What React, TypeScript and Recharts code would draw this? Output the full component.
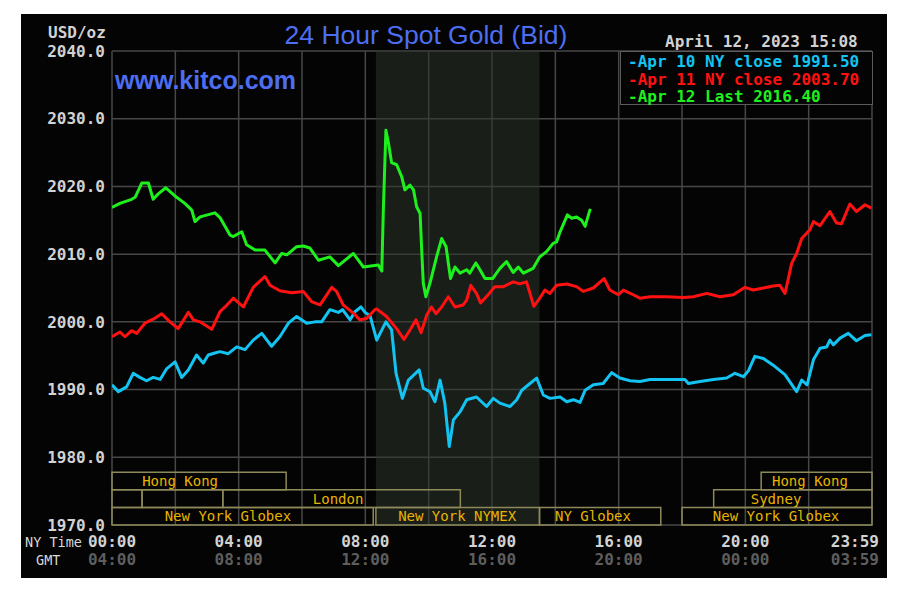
import { LineChart, Line, XAxis, YAxis, CartesianGrid, ReferenceArea, Legend } from "recharts";

// [hour of NY day, USD/oz]
const apr10: [number, number][] = [
  [0, 1990.7], [0.2, 1989.7], [0.46, 1990.4], [0.67, 1992.4], [0.88, 1991.8], [1.09, 1991.3],
  [1.3, 1991.8], [1.52, 1991.5], [1.73, 1993.1], [1.99, 1994.1], [2.2, 1991.8], [2.41, 1992.9],
  [2.67, 1995.1], [2.88, 1993.9], [3.04, 1995.1], [3.25, 1995.4], [3.41, 1995.6], [3.67, 1995.3],
  [3.94, 1996.3], [4.2, 1995.9], [4.46, 1997.3], [4.73, 1998.3], [5.04, 1996.4], [5.3, 1997.8],
  [5.57, 1999.8], [5.83, 2000.8], [6.15, 1999.8], [6.41, 2000.0], [6.62, 2000.0], [6.88, 2001.8],
  [7.15, 2001.4], [7.28, 2001.8], [7.52, 2000.3], [7.67, 2001.5], [7.86, 2002.2], [7.99, 2001.4],
  [8.15, 2000.9], [8.36, 1997.3], [8.65, 2000.0], [8.83, 1998.8], [8.97, 1992.4], [9.17, 1988.7],
  [9.36, 1991.4], [9.7, 1992.9], [9.83, 1990.2], [10.04, 1989.7], [10.2, 1988.2], [10.36, 1991.4],
  [10.51, 1988.0], [10.65, 1981.6], [10.78, 1985.5], [10.99, 1986.7], [11.2, 1988.5], [11.51, 1988.9],
  [11.83, 1987.5], [12.04, 1988.7], [12.25, 1988.0], [12.57, 1987.5], [12.78, 1988.5], [12.94, 1989.9],
  [13.2, 1990.9], [13.41, 1991.7], [13.62, 1989.2], [13.83, 1988.7], [14.15, 1988.9], [14.36, 1988.2],
  [14.57, 1988.5], [14.78, 1988.1], [14.94, 1989.9], [15.2, 1990.7], [15.51, 1990.9], [15.78, 1992.5],
  [16.04, 1991.7], [16.36, 1991.3], [16.67, 1991.2], [16.99, 1991.5], [17.52, 1991.5], [18.09, 1991.5],
  [18.2, 1990.9], [18.57, 1991.2], [18.99, 1991.5], [19.41, 1991.7], [19.67, 1992.4], [19.94, 1991.9],
  [20.1, 1992.8], [20.3, 1994.9], [20.57, 1994.6], [20.88, 1993.6], [21.25, 1992.2], [21.62, 1989.7],
  [21.78, 1991.4], [21.95, 1990.7], [22.15, 1994.4], [22.36, 1996.1], [22.57, 1996.3], [22.67, 1997.3],
  [22.78, 1996.6], [22.99, 1997.6], [23.25, 1998.3], [23.51, 1997.2], [23.78, 1998.0], [23.98, 1998.1],
];

const apr11: [number, number][] = [
  [0, 1997.8], [0.25, 1998.5], [0.41, 1997.8], [0.62, 1998.7], [0.78, 1998.3], [1.04, 1999.8],
  [1.3, 2000.4], [1.57, 2001.2], [1.83, 2000.0], [2.09, 1999.0], [2.41, 2001.4], [2.57, 2000.3],
  [2.78, 2000.0], [3.15, 1998.9], [3.41, 2001.5], [3.57, 2002.2], [3.83, 2003.5], [4.15, 2002.2],
  [4.46, 2005.1], [4.83, 2006.7], [4.99, 2005.4], [5.3, 2004.6], [5.67, 2004.3], [6.04, 2004.5],
  [6.3, 2003.0], [6.57, 2002.5], [6.94, 2005.1], [7.09, 2004.5], [7.3, 2002.5], [7.62, 2001.3],
  [7.83, 2000.3], [8.04, 2000.5], [8.3, 2001.8], [8.36, 2001.9], [8.67, 2000.8], [8.99, 1999.0],
  [9.22, 1997.4], [9.41, 1998.8], [9.6, 2000.3], [9.76, 1998.4], [9.94, 2001.0], [10.09, 2002.2],
  [10.23, 2001.2], [10.41, 2002.2], [10.62, 2003.7], [10.83, 2002.2], [11.09, 2002.5], [11.2, 2003.2],
  [11.33, 2005.4], [11.51, 2004.2], [11.64, 2002.8], [11.88, 2004.0], [12.09, 2005.2], [12.36, 2005.2],
  [12.67, 2005.9], [12.88, 2005.6], [13.09, 2005.9], [13.2, 2004.2], [13.32, 2002.3], [13.51, 2003.5],
  [13.67, 2004.7], [13.83, 2004.2], [14.04, 2005.4], [14.36, 2005.6], [14.67, 2005.2], [14.88, 2004.5],
  [15.2, 2005.0], [15.54, 2006.4], [15.72, 2004.7], [15.99, 2004.0], [16.15, 2004.7], [16.46, 2004.0],
  [16.67, 2003.5], [16.99, 2003.7], [17.52, 2003.7], [18.04, 2003.6], [18.36, 2003.7], [18.78, 2004.2],
  [19.2, 2003.7], [19.62, 2004.0], [19.99, 2005.1], [20.25, 2004.7], [20.57, 2005.0], [20.88, 2005.3],
  [21.09, 2005.4], [21.25, 2004.2], [21.35, 2006.2], [21.46, 2008.6], [21.62, 2010.1], [21.78, 2012.3],
  [22.04, 2013.6], [22.15, 2014.8], [22.36, 2014.2], [22.67, 2016.3], [22.88, 2014.6], [23.04, 2014.5],
  [23.3, 2017.4], [23.51, 2016.3], [23.78, 2017.3], [23.98, 2016.8],
];

const apr12: [number, number][] = [
  [0, 2016.9], [0.25, 2017.5], [0.62, 2018.1], [0.73, 2018.4], [0.94, 2020.5], [1.15, 2020.5],
  [1.3, 2018.1], [1.46, 2018.9], [1.7, 2019.8], [2.04, 2018.4], [2.3, 2017.5], [2.52, 2016.5],
  [2.62, 2014.8], [2.78, 2015.5], [3.25, 2016.1], [3.41, 2015.4], [3.73, 2012.8], [3.83, 2012.6],
  [4.1, 2013.3], [4.25, 2011.4], [4.52, 2010.6], [4.83, 2010.6], [5.15, 2008.7], [5.36, 2010.1],
  [5.52, 2009.9], [5.83, 2011.1], [6.04, 2011.2], [6.25, 2010.9], [6.52, 2009.1], [6.88, 2009.6],
  [7.15, 2008.3], [7.62, 2010.1], [7.94, 2008.1], [8.41, 2008.4], [8.52, 2007.5], [8.57, 2016.8],
  [8.65, 2028.3], [8.73, 2026.4], [8.83, 2023.5], [8.99, 2023.2], [9.15, 2021.4], [9.25, 2019.5],
  [9.41, 2020.2], [9.52, 2019.5], [9.62, 2017.0], [9.73, 2016.0], [9.78, 2010.6], [9.83, 2005.7],
  [9.91, 2003.7], [10.04, 2005.7], [10.25, 2009.6], [10.41, 2012.3], [10.55, 2011.1], [10.62, 2008.7],
  [10.69, 2006.4], [10.83, 2008.1], [10.99, 2007.2], [11.2, 2007.7], [11.3, 2007.2], [11.49, 2008.7],
  [11.62, 2007.7], [11.78, 2006.4], [12.02, 2006.4], [12.25, 2007.9], [12.46, 2008.9], [12.67, 2007.3],
  [12.83, 2008.1], [12.99, 2007.2], [13.3, 2007.9], [13.51, 2009.6], [13.73, 2010.4], [13.93, 2011.6],
  [14.04, 2011.8], [14.15, 2013.3], [14.38, 2015.8], [14.52, 2015.3], [14.67, 2015.5], [14.83, 2015.0],
  [14.94, 2014.1], [15.09, 2016.5], [15.13, 2016.4],
];

const seriesNames = ["Apr 10 NY close 1991.50", "Apr 11 NY close 2003.70", "Apr 12 Last 2016.40"];
const seriesColors = ["#13c3f2", "#ff1111", "#1ef01e"];
const seriesPoints = [apr10, apr11, apr12];

const yTicks = [1970, 1980, 1990, 2000, 2010, 2020, 2030, 2040];
const xTicks = [0, 2, 4, 6, 8, 10, 12, 14, 16, 18, 20, 22, 24];
const labelHours = [0, 4, 8, 12, 16, 20, 24];
const nyTimeLabels = ["00:00", "04:00", "08:00", "12:00", "16:00", "20:00", "23:59"];
const gmtLabels = ["04:00", "08:00", "12:00", "16:00", "20:00", "00:00", "03:59"];

// NYMEX floor session (shaded)
const nymexHours = [8.333, 13.5];

// market session rows: 0 = top, 2 = bottom
const rowBands = [[1975.2, 1977.8], [1972.6, 1975.2], [1970, 1972.6]];
const sessions = [
  { name: "Hong Kong", from: 0, to: 5.5, row: 0, labelAt: 2.15 },
  { name: "", from: 0, to: 0.95, row: 1, labelAt: 0 },
  { name: "", from: 0.95, to: 3.5, row: 1, labelAt: 0 },
  { name: "London", from: 3.5, to: 11, row: 1, labelAt: 7.14 },
  { name: "New York Globex", from: 0, to: 8.25, row: 2, labelAt: 3.66 },
  { name: "New York NYMEX", from: 8.333, to: 13.5, row: 2, labelAt: 10.9 },
  { name: "NY Globex", from: 13.5, to: 17.33, row: 2, labelAt: 15.19 },
  { name: "New York Globex", from: 18, to: 24, row: 2, labelAt: 20.97 },
  { name: "Sydney", from: 19, to: 24, row: 1, labelAt: 20.97 },
  { name: "Hong Kong", from: 20.5, to: 24, row: 0, labelAt: 22.04 },
];

const MONO = "'DejaVu Sans Mono', monospace";
const SANS = "'Liberation Sans', Arial, sans-serif";

function SessionLabel(props: any) {
  const { viewBox, session } = props;
  if (!viewBox || !session.name) return null;
  const frac = (session.labelAt - session.from) / (session.to - session.from);
  return (
    <text
      x={viewBox.x + frac * viewBox.width}
      y={viewBox.y + viewBox.height / 2 + 5}
      textAnchor="middle"
      fill="#e8b400"
      fontFamily={MONO}
      fontSize={14}
    >
      {session.name}
    </text>
  );
}

function TimeTick(props: any) {
  const { x, y, payload } = props;
  const i = labelHours.indexOf(payload.value);
  if (i < 0) return <g />;
  const last = i === labelHours.length - 1;
  const tx = last ? x + 7 : x;
  const anchor = last ? "end" : "middle";
  return (
    <g>
      <text x={tx} y={y + 22} textAnchor={anchor} fill="#d2d2d2" fontFamily={MONO} fontWeight="bold" fontSize={16}>
        {nyTimeLabels[i]}
      </text>
      <text x={tx} y={y + 40} textAnchor={anchor} fill="#5e5e5e" fontFamily={MONO} fontWeight="bold" fontSize={16}>
        {gmtLabels[i]}
      </text>
    </g>
  );
}

function LegendBox() {
  return (
    <div
      style={{
        boxSizing: "border-box",
        width: 253,
        height: 54,
        border: "1.5px solid #5c5c5c",
        background: "#040404",
        padding: "1px 0 0 7px",
        fontFamily: MONO,
        fontWeight: "bold",
        fontSize: 16,
        lineHeight: "17.5px",
        whiteSpace: "pre",
      }}
    >
      {seriesNames.map((n, i) => (
        <div key={n} style={{ color: seriesColors[i] }}>
          {"-" + n}
        </div>
      ))}
    </div>
  );
}

export default function App() {
  return (
    <div style={{ position: "absolute", left: 21, top: 14, width: 866, height: 564, background: "#040404" }}>
      <LineChart width={866} height={564} margin={{ top: 37, right: 15, bottom: 8, left: 11 }}>
        <CartesianGrid stroke="#474747" strokeWidth={1.5} />
        <XAxis
          type="number"
          dataKey="t"
          domain={[0, 24]}
          ticks={xTicks}
          interval={0}
          height={45}
          axisLine={false}
          tickLine={false}
          tickSize={0}
          tickMargin={0}
          tick={<TimeTick />}
          allowDataOverflow
        />
        <YAxis
          type="number"
          domain={[1970, 2040]}
          ticks={yTicks}
          interval={0}
          width={80}
          axisLine={false}
          tickLine={false}
          tickSize={5}
          tickMargin={2}
          tickFormatter={(v: number) => v.toFixed(1)}
          tick={{ fill: "#d2d2d2", fontFamily: MONO, fontWeight: "bold", fontSize: 16 }}
          allowDataOverflow
        />
        <ReferenceArea x1={nymexHours[0]} x2={nymexHours[1]} y1={1970} y2={2040} fill="#2c342c" fillOpacity={0.55} stroke="none" />
        {sessions.map((s, i) => (
          <ReferenceArea
            key={i}
            x1={s.from}
            x2={s.to}
            y1={rowBands[s.row][0]}
            y2={rowBands[s.row][1]}
            fill="none"
            stroke="#8d8959"
            strokeWidth={1.5}
            label={<SessionLabel session={s} />}
          />
        ))}
        {seriesPoints.map((pts, i) => (
          <Line
            key={seriesNames[i]}
            name={seriesNames[i]}
            data={pts.map(([t, v]) => ({ t, v }))}
            dataKey="v"
            type="linear"
            stroke={seriesColors[i]}
            strokeWidth={3}
            strokeLinejoin="round"
            dot={false}
            isAnimationActive={false}
          />
        ))}
        <Legend
          layout="vertical"
          align="center"
          verticalAlign="middle"
          wrapperStyle={{ top: 37, left: 599, width: 253, height: 54 }}
          content={<LegendBox />}
        />
      </LineChart>
      <svg width={866} height={564} style={{ position: "absolute", left: 0, top: 0, pointerEvents: "none" }}>
        <text x={405} y={30} textAnchor="middle" fill="#4d6ef2" fontFamily={SANS} fontSize={26.5}>
          24 Hour Spot Gold (Bid)
        </text>
        <text x={94} y={75} fill="#4d6ef2" fontFamily={SANS} fontWeight="bold" fontSize={25}>
          www.kitco.com
        </text>
        <text x={27} y={23.5} fill="#d2d2d2" fontFamily={MONO} fontWeight="bold" fontSize={16}>
          USD/oz
        </text>
        <text x={644} y={32.5} fill="#d2d2d2" fontFamily={MONO} fontWeight="bold" fontSize={16}>
          April 12, 2023 15:08
        </text>
        <text x={4} y={533} fill="#d8d8d8" fontFamily={MONO} fontSize={13.5}>
          NY Time
        </text>
        <text x={15} y={551} fill="#d8d8d8" fontFamily={MONO} fontSize={13.5}>
          GMT
        </text>
      </svg>
    </div>
  );
}
